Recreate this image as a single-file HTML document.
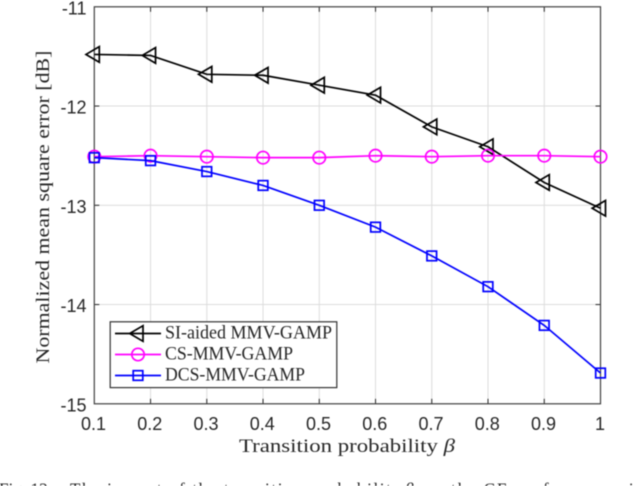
<!DOCTYPE html>
<html>
<head>
<meta charset="utf-8">
<style>
html,body{margin:0;padding:0;background:#fff;width:640px;height:486px;overflow:hidden}
svg{display:block;filter:blur(0.45px)}
.tick{font-family:"Liberation Sans",sans-serif;font-size:18px;fill:#262626}
.serif{font-family:"Liberation Serif",serif;fill:#262626}
</style>
</head>
<body>
<svg id="chart" xmlns="http://www.w3.org/2000/svg" width="640" height="486" viewBox="0 0 640 486">
  <rect x="94.3" y="6.8" width="506.2" height="397" fill="#fff"/>
  <g id="grid"></g>
  <g id="axes"></g>
  <g id="series"></g>
  <text class="serif" font-size="19" transform="translate(49,363.5) rotate(-90)" textLength="313" lengthAdjust="spacingAndGlyphs">Normalized mean square error [dB]</text>
  <text class="serif" font-size="19" x="239" y="452" textLength="216" lengthAdjust="spacingAndGlyphs">Transition probability <tspan font-style="italic">β</tspan></text>
  <g>
    <rect x="110.2" y="321.8" width="226.6" height="65.8" fill="#fff" stroke="#333" stroke-width="1.2"/>
    <g id="legend-keys"></g>
    <text class="serif" font-size="18.5" x="165" y="338.5" textLength="167" lengthAdjust="spacingAndGlyphs">SI-aided MMV-GAMP</text>
    <text class="serif" font-size="18.5" x="165" y="359.5" textLength="128" lengthAdjust="spacingAndGlyphs">CS-MMV-GAMP</text>
    <text class="serif" font-size="18.5" x="165" y="380.5" textLength="140" lengthAdjust="spacingAndGlyphs">DCS-MMV-GAMP</text>
  </g>
  <g font-family="'Liberation Serif',serif" font-size="17" fill="#222">
    <text x="-1" y="494.5" textLength="53" lengthAdjust="spacingAndGlyphs">Fig. 12.</text>
    <text x="70" y="494.5" textLength="331" lengthAdjust="spacing">The impact of the transition probability</text>
    <text x="405" y="494.5" font-style="italic">β</text>
    <text x="424" y="494.5" textLength="220" lengthAdjust="spacing">on the CE performance in</text>
  </g>
</svg>
<script>
const categories = [0.1, 0.2, 0.3, 0.4, 0.5, 0.6, 0.7, 0.8, 0.9, 1];
const siAidedValues = [-11.48, -11.49, -11.68, -11.69, -11.79, -11.89, -12.21, -12.41, -12.77, -13.03];
const csValues = [-12.51, -12.50, -12.51, -12.52, -12.52, -12.50, -12.51, -12.50, -12.50, -12.51];
const dcsValues = [-12.52, -12.55, -12.66, -12.80, -13.00, -13.22, -13.51, -13.82, -14.21, -14.69];
const xTickValues = [0.1, 0.2, 0.3, 0.4, 0.5, 0.6, 0.7, 0.8, 0.9, 1];
const xTickLabels = ['0.1', '0.2', '0.3', '0.4', '0.5', '0.6', '0.7', '0.8', '0.9', '1'];
const yTickValues = [-11, -12, -13, -14, -15];
const yTickLabels = ['-11', '-12', '-13', '-14', '-15'];

const NS = 'http://www.w3.org/2000/svg';
const plotLeft = 94.3, plotRight = 600.5, plotTop = 6.8, plotBottom = 403.8;
const xScale = v => plotLeft + (v - 0.1) / 0.9 * (plotRight - plotLeft);
const yScale = v => plotTop + (-11 - v) / 4 * (plotBottom - plotTop);

function make(parent, tag, attrs, text) {
  const el = document.createElementNS(NS, tag);
  for (const k in attrs) el.setAttribute(k, attrs[k]);
  if (text !== undefined) el.textContent = text;
  parent.appendChild(el);
  return el;
}

function drawMarker(parent, kind, x, y, color) {
  let el;
  if (kind === 'triangle') {
    const pts = [[x - 8.3, y], [x + 5, y - 7.8], [x + 5, y + 7.8]];
    el = make(parent, 'polygon', {points: pts.map(p => p.join(',')).join(' '), fill: 'none', stroke: color, 'stroke-width': 1.7});
  } else if (kind === 'circle') {
    el = make(parent, 'circle', {cx: x, cy: y, r: 6.2, fill: 'none', stroke: color, 'stroke-width': 1.7});
  } else {
    el = make(parent, 'rect', {x: x - 4.8, y: y - 4.8, width: 9.6, height: 9.6, fill: 'none', stroke: color, 'stroke-width': 1.7});
  }
  return el;
}

const grid = document.getElementById('grid');
const axes = document.getElementById('axes');

xTickValues.forEach((v, i) => {
  const x = xScale(v);
  if (i > 0 && i < xTickValues.length - 1) {
    const g = make(grid, 'line', {x1: x, x2: x, y1: plotTop, y2: plotBottom, stroke: '#dcdcdc', 'stroke-width': 1});
    
    
    const t1 = make(axes, 'line', {x1: x, x2: x, y1: plotBottom, y2: plotBottom - 5, stroke: '#262626', 'stroke-width': 1});
    
    
    const t2 = make(axes, 'line', {x1: x, x2: x, y1: plotTop, y2: plotTop + 5, stroke: '#262626', 'stroke-width': 1});
    
    
  }
  const label = make(axes, 'text', {class: 'tick', x: x - (i === xTickValues.length - 1 ? 0.5 : 0.8), y: 430, 'text-anchor': 'middle'}, xTickLabels[i]);
  
  
});

yTickValues.forEach((v, i) => {
  const y = yScale(v);
  if (i > 0 && i < yTickValues.length - 1) {
    const g = make(grid, 'line', {x1: plotLeft, x2: plotRight, y1: y, y2: y, stroke: '#dcdcdc', 'stroke-width': 1});
    
    
    const t1 = make(axes, 'line', {x1: plotLeft, x2: plotLeft + 5, y1: y, y2: y, stroke: '#262626', 'stroke-width': 1});
    
    
    const t2 = make(axes, 'line', {x1: plotRight, x2: plotRight - 5, y1: y, y2: y, stroke: '#262626', 'stroke-width': 1});
    
    
  }
  const label = make(axes, 'text', {class: 'tick', x: 86.5, y: y + 7.5, 'text-anchor': 'end'}, yTickLabels[i]);
  
  
});

const frame = make(axes, 'rect', {x: plotLeft, y: plotTop, width: plotRight - plotLeft, height: plotBottom - plotTop, fill: 'none', stroke: '#404040', 'stroke-width': 1.2});



const seriesGroup = document.getElementById('series');

function drawSeries(values, color, kind, name) {
  const g = make(seriesGroup, 'g', {});
  
  
  const pts = values.map((v, i) => [xScale(categories[i]), yScale(v)]);
  const line = make(g, 'polyline', {points: pts.map(p => p.join(',')).join(' '), fill: 'none', stroke: color, 'stroke-width': 1.7});
  
  
  pts.forEach(p => {
    const m = drawMarker(g, kind, p[0], p[1], color);
    
    
  });
}

drawSeries(siAidedValues, '#000000', 'triangle', 'series-si-aided-mmv-gamp');
drawSeries(csValues, '#ff00ff', 'circle', 'series-cs-mmv-gamp');
drawSeries(dcsValues, '#0000ff', 'square', 'series-dcs-mmv-gamp');

const legendKeys = document.getElementById('legend-keys');
[['#000000', 'triangle', 333.5], ['#ff00ff', 'circle', 354.5], ['#0000ff', 'square', 375.5]].forEach(row => {
  const l = make(legendKeys, 'line', {x1: 115, x2: 161, y1: row[2], y2: row[2], stroke: row[0], 'stroke-width': 1.7});
  
  
  const m = drawMarker(legendKeys, row[1], 138, row[2], row[0]);
  
  
});
</script>
</body>
</html>
